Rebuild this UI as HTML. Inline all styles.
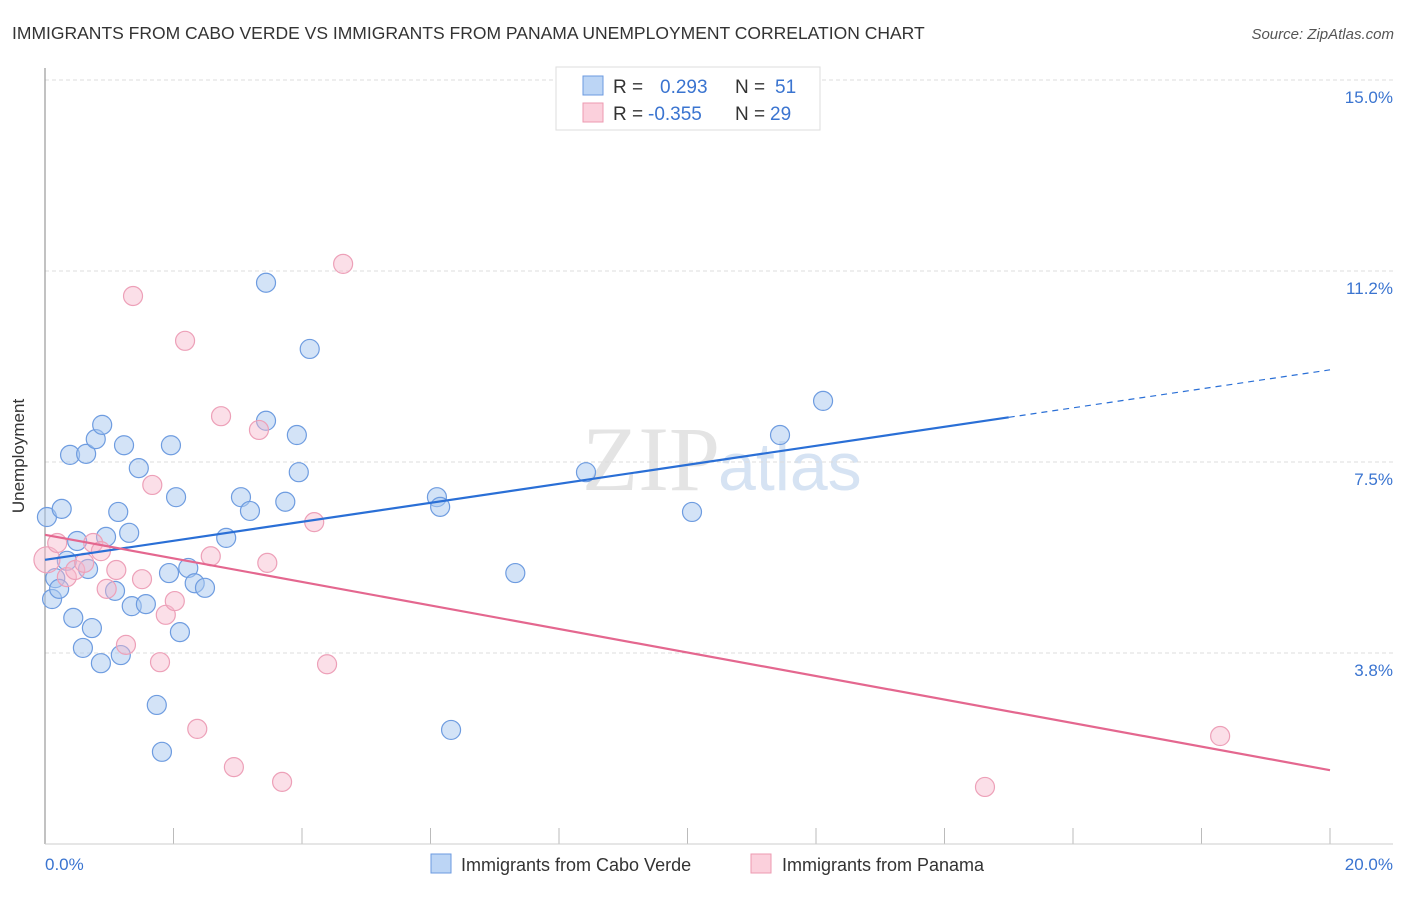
<!DOCTYPE html>
<html><head><meta charset="utf-8"><style>
body{margin:0;background:#fff;font-family:"Liberation Sans",sans-serif}
</style></head><body>
<svg id="c" width="1406" height="892" xmlns="http://www.w3.org/2000/svg" style="font-family:'Liberation Sans',sans-serif">
<text x="12" y="39" font-size="17.5" fill="#333">IMMIGRANTS FROM CABO VERDE VS IMMIGRANTS FROM PANAMA UNEMPLOYMENT CORRELATION CHART</text>
<text x="1394" y="39" font-size="15" fill="#555" font-style="italic" text-anchor="end">Source: ZipAtlas.com</text>
<text x="720" y="490" font-size="92" fill="#e4e4e4" text-anchor="end" font-family="Liberation Serif,serif">ZIP</text>
<text x="718" y="490" font-size="68" fill="#d6e3f3">atlas</text>
<g id="grid"></g>
<line x1="45" y1="68" x2="45" y2="844" stroke="#999" stroke-width="1.2"/>
<line x1="45" y1="844" x2="1393" y2="844" stroke="#ccc" stroke-width="1"/>
<text x="24" y="456" font-size="17" fill="#333" text-anchor="middle" transform="rotate(-90 24 456)">Unemployment</text>
<text x="45" y="870" font-size="17" fill="#3a74d0">0.0%</text>
<text x="1393" y="870" font-size="17" fill="#3a74d0" text-anchor="end">20.0%</text>
<g id="pts"></g>
<g id="lines"></g>
<g>
<rect x="556" y="67" width="264" height="63" fill="#fff" stroke="#ddd"/>
<rect x="583" y="76" width="20" height="19" fill="#bcd5f5" stroke="#6b9ae0"/>
<rect x="583" y="103" width="20" height="19" fill="#fbd0dc" stroke="#ec9ab0"/>
<text x="613" y="93" font-size="19" fill="#333">R = <tspan fill="#3a74d0" x="660">0.293</tspan><tspan x="735">N = </tspan><tspan fill="#3a74d0" x="775">51</tspan></text>
<text x="613" y="120" font-size="19" fill="#333">R = <tspan fill="#3a74d0" x="648">-0.355</tspan><tspan x="735">N = </tspan><tspan fill="#3a74d0" x="770">29</tspan></text>
</g>
<g>
<rect x="431" y="854" width="20" height="19" fill="#bcd5f5" stroke="#6b9ae0"/>
<text x="461" y="871" font-size="18" fill="#333">Immigrants from Cabo Verde</text></g>
<g>
<rect x="751" y="854" width="20" height="19" fill="#fbd0dc" stroke="#ec9ab0"/>
<text x="782" y="871" font-size="18" fill="#333">Immigrants from Panama</text></g>
</svg>
<script>
const yTicks=[15.0,11.25,7.5,3.75];
const yTickLabels=["15.0%","11.2%","7.5%","3.8%"];
const xTickVals=[0,2,4,6,8,10,12,14,16,18,20];
const blueX=[.03,.26,.16,.11,.22,.39,.64,.79,.89,.34,.50,.67,.44,.73,.59,.87,.95,1.14,1.23,1.31,1.46,1.09,1.35,1.57,1.18,1.74,1.82,1.96,2.04,1.93,2.23,2.33,2.49,2.10,2.82,3.05,3.19,3.44,3.44,3.74,3.92,3.95,4.12,6.10,6.15,6.32,7.32,8.42,10.07,11.44,12.11];
const blueY=[6.42,6.58,5.22,4.81,5.01,7.64,7.66,7.95,8.23,5.56,5.95,5.40,4.44,4.24,3.85,3.55,6.03,6.52,7.83,6.11,7.38,4.97,4.67,4.71,3.71,2.73,1.81,7.83,6.81,5.32,5.42,5.12,5.03,4.16,6.01,6.81,6.54,11.02,8.31,6.72,8.03,7.30,9.72,6.81,6.62,2.24,5.32,7.30,6.52,8.03,8.70];
const pinkX=[.03,.19,.34,.47,.61,.75,.87,.96,1.11,1.26,1.37,1.51,1.67,1.79,1.88,2.02,2.18,2.37,2.58,2.74,2.94,3.33,3.46,3.69,4.19,4.39,4.64,14.63,18.29];
const pinkY=[5.58,5.91,5.24,5.38,5.52,5.91,5.75,5.01,5.38,3.91,10.76,5.20,7.05,3.57,4.50,4.77,9.88,2.26,5.65,8.40,1.51,8.13,5.52,1.22,6.32,3.53,11.39,1.12,2.12];
const blueTrend=[5.58,9.31]; const blueSolidEnd=15.0;
const pinkTrend=[6.07,1.45];
const X=v=>45+v*64.25, Y=v=>844-v*50.93;
const NS="http://www.w3.org/2000/svg";
function mk(p,t,a){const e=document.createElementNS(NS,t);for(const k in a)e.setAttribute(k,a[k]);p.appendChild(e);return e;}
const grid=document.getElementById('grid');
yTicks.forEach((v,i)=>{
 const l=mk(grid,'line',{x1:45,x2:1393,y1:Y(v),y2:Y(v),stroke:'#ddd','stroke-dasharray':'4,3'});
 
 
 const t=mk(grid,'text',{x:1393,y:Y(v)+23,'font-size':17,fill:'#3a74d0','text-anchor':'end'});
 t.textContent=yTickLabels[i];
 
 
});
xTickVals.forEach(v=>{
 const l=mk(grid,'line',{x1:X(v),x2:X(v),y1:828,y2:844,stroke:'#bbb'});
 
 
});
const pts=document.getElementById('pts');
blueX.forEach((x,i)=>{
 const c=mk(pts,'circle',{cx:X(x),cy:Y(blueY[i]),r:9.5,fill:'rgba(168,200,240,0.5)',stroke:'#6e9ce0','stroke-width':1.2});
 
 
});
pinkX.forEach((x,i)=>{
 const c=mk(pts,'circle',{cx:X(x),cy:Y(pinkY[i]),r:i==0?13:9.5,fill:'rgba(247,185,205,0.45)',stroke:'#eda0b8','stroke-width':1.2});
 
 
});
const lines=document.getElementById('lines');
const by=x=>blueTrend[0]+(blueTrend[1]-blueTrend[0])*x/20;
let b1=mk(lines,'line',{x1:X(0),y1:Y(by(0)),x2:X(blueSolidEnd),y2:Y(by(blueSolidEnd)),stroke:'#2a6fd6','stroke-width':2.2});


let b2=mk(lines,'line',{x1:X(blueSolidEnd),y1:Y(by(blueSolidEnd)),x2:X(20),y2:Y(by(20)),stroke:'#2a6fd6','stroke-width':1.2,'stroke-dasharray':'6,5'});


let p1=mk(lines,'line',{x1:X(0),y1:Y(pinkTrend[0]),x2:X(20),y2:Y(pinkTrend[1]),stroke:'#e4678f','stroke-width':2.2});


</script>
</body></html>
